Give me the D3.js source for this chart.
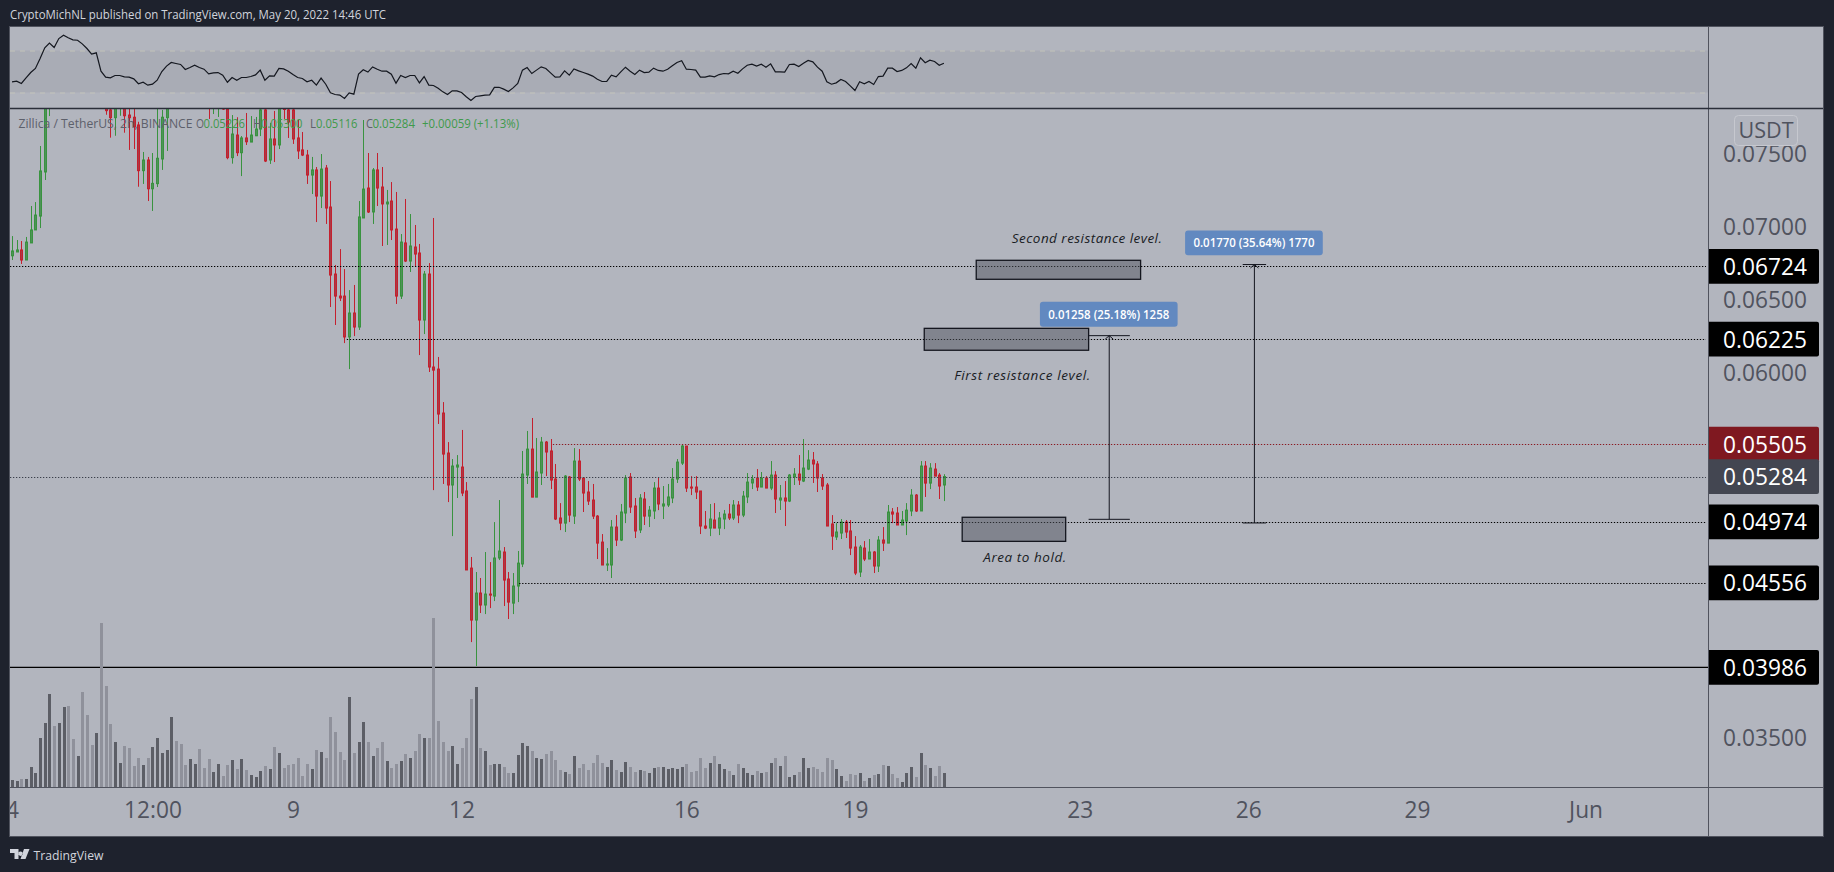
<!DOCTYPE html>
<html><head><meta charset="utf-8">
<script src="https://cdn.jsdelivr.net/npm/d3@7/dist/d3.min.js"></script>
<style>
html,body{margin:0;padding:0;background:#1e222d;overflow:hidden}
svg{display:block}
text{font-family:"Open Sans",sans-serif}
</style></head><body><svg id="c" width="1834" height="872"></svg>
<script>
// Prices are in units of 0.00001 USDT. Bars are 2h apart, from May 4 00:00.
const opens=[6796,6822,6836,6767,6884,6973,7068,7370,7863,7966,
7900,8050,8190,8110,8070,8100,8020,7980,7900,7950,
7850,7795,7742,7840,7880,7760,7745,7692,7379,7452,
7255,7290,7459,7742,7850,7980,7940,7910,7870,7930,
8000,7950,7890,7840,7880,7830,7801,7468,7623,7502,
7603,7575,7618,7664,7795,7452,7596,7555,7830,7795,
7795,7603,7521,7486,7349,7384,7205,7397,7130,6671,
6520,6520,6240,6404,6308,7055,7260,7096,7384,7267,
7151,7171,6979,6520,6884,6760,6856,6815,6356,6671,
6034,6020,5719,5445,5226,5349,5349,5185,4657,4301,
4486,4404,4479,4465,4726,4767,4582,4417,4534,4685,
5294,5472,5143,5308,5520,5459,5267,5000,4965,5281,
5013,5390,5274,5178,5123,5013,4835,4678,4678,4938,
4849,5034,5281,5082,4918,5130,5013,5048,5205,5082,
5089,5137,5267,5376,5493,5212,5212,5185,4945,4931,
4986,4931,4993,5027,5000,5089,5020,5144,5240,5274,
5212,5274,5205,5294,5123,5137,5116,5281,5301,5253,
5335,5397,5370,5274,5226,4959,4870,4897,4972,4911,
4801,4630,4794,4719,4767,4671,4849,4828,5041,5034,
4952,4979,5048,5157,5048,5356,5239,5335,5294,5226];
const highs=[6931,6904,6897,6925,7137,7164,7548,7918,8068,8020,
8080,8240,8220,8150,8130,8120,8060,8000,7990,7970,
7880,7860,7900,7930,7910,7830,7820,7714,7507,7473,
7500,7830,7795,7900,8020,8010,7980,7950,7960,8040,
8020,7970,7920,7950,7960,7880,7860,7760,7745,7616,
7774,7753,7747,7840,7801,7707,7788,7870,7870,7840,
7830,7726,7644,7521,7473,7404,7493,7418,7308,6733,
6842,6705,6561,6596,7171,7726,7500,7397,7500,7404,
7247,7301,7233,6945,7185,7082,7007,6877,6692,6746,
7055,6103,5794,5520,5404,5431,5603,5246,4733,4630,
4589,4767,4698,4972,5123,4801,4630,4623,4774,5459,
5596,5685,5548,5555,5527,5541,5370,5102,5294,5287,
5479,5472,5274,5253,5233,5020,4890,4794,4986,5020,
5096,5294,5308,5137,5164,5178,5082,5246,5281,5219,
5233,5342,5404,5505,5493,5287,5287,5185,5048,5096,
5102,5041,5055,5096,5123,5116,5185,5308,5294,5335,
5315,5287,5390,5321,5226,5253,5301,5342,5431,5541,
5465,5452,5390,5301,5240,5020,4965,4993,4986,4986,
4876,4815,4842,4856,4774,4876,4938,5089,5068,5075,
5048,5102,5198,5164,5390,5390,5376,5376,5308,5300];
const lows=[6767,6822,6740,6767,6884,6973,6986,7315,7753,7880,
7880,8020,8080,8040,8040,7990,7940,7860,7860,7830,
7762,7605,7618,7755,7639,7521,7527,7269,7288,7171,
7103,7267,7384,7514,7830,7900,7880,7840,7840,7900,
7920,7850,7733,7767,7747,7795,7457,7427,7479,7342,
7555,7575,7616,7616,7438,7425,7438,7527,7733,7603,
7562,7459,7479,7288,7219,7027,7123,7014,6445,6322,
6486,6198,6020,6246,6288,7055,7089,7014,7137,6863,
6870,6904,6466,6500,6753,6685,6726,6116,6260,6000,
5191,5644,5233,5109,4876,5137,5150,4644,4150,3986,
4349,4342,4383,4431,4712,4397,4308,4342,4424,4664,
5233,5143,5143,5226,5287,5198,4986,4917,4904,4972,
4959,5253,5041,5089,4993,4719,4678,4637,4589,4808,
4842,4965,5034,4863,4897,4952,4938,4993,5054,4993,
5075,5102,5240,5363,5178,5157,5130,4890,4924,4876,
4931,4883,4924,4986,4986,4965,5006,5102,5198,5185,
5212,5205,5191,5034,5055,4945,5109,5226,5226,5246,
5328,5240,5178,5192,4945,4781,4849,4856,4863,4746,
4609,4596,4705,4719,4623,4630,4774,4828,4965,4952,
4952,4883,5013,5041,5048,5144,5198,5287,5130,5116];
const closes=[6829,6836,6767,6890,6973,7075,7377,7863,7966,7900,
8050,8190,8110,8070,8100,8020,7980,7900,7950,7850,
7790,7742,7840,7880,7755,7742,7680,7379,7452,7255,
7292,7464,7745,7850,7980,7940,7910,7870,7930,8000,
7950,7890,7840,7900,7930,7801,7468,7630,7502,7603,
7577,7623,7664,7795,7445,7596,7555,7830,7798,7712,
7596,7514,7486,7349,7384,7205,7390,7123,6664,6520,
6507,6240,6404,6308,7062,7253,7096,7384,7260,7151,
7164,6973,6520,6890,6760,6863,6808,6356,6671,6034,
6013,5712,5438,5226,5356,5363,5171,4644,4301,4486,
4404,4479,4472,4726,4774,4575,4424,4534,4691,5301,
5472,5143,5315,5520,5452,5260,4993,4965,5287,5020,
5390,5267,5171,5116,5013,4828,4678,4685,4938,4849,
5041,5274,5075,4911,5137,5013,5054,5205,5096,5096,
5144,5267,5383,5493,5205,5205,5178,4945,4931,4993,
4931,5000,5027,5000,5089,5020,5150,5246,5267,5212,
5274,5205,5294,5130,5137,5116,5294,5301,5260,5342,
5397,5370,5274,5219,4945,4876,4904,4972,4904,4794,
4623,4801,4719,4767,4671,4849,4828,5041,5027,4952,
4986,5054,5157,5048,5356,5239,5342,5287,5219,5284];
const volumes=[7,6,8,8,20,14,49,64,93,61,
64,80,81,48,31,95,72,42,54,164,
101,63,45,24,41,39,21,29,22,29,
40,49,34,37,70,46,43,22,28,23,
38,19,28,15,23,11,22,27,18,28,
17,12,10,16,21,18,40,34,19,22,
23,29,11,23,18,37,35,29,70,55,
35,27,90,34,45,65,45,31,39,45,
26,19,23,26,33,29,36,53,49,49,
169,66,45,36,41,23,39,49,88,100,
39,36,22,23,23,20,14,14,32,44,
41,36,29,28,33,36,27,17,15,13,
31,19,23,17,24,32,24,20,27,17,
15,25,20,15,17,16,14,19,20,20,
18,19,18,20,23,15,16,29,19,24,
31,23,18,16,12,23,19,14,12,16,
14,15,24,29,21,31,10,12,15,29,
19,20,18,15,29,27,18,11,6,13,
12,14,6,9,12,13,22,21,13,9,
5,14,20,10,34,22,19,11,21,14];
const rsi=[40.2,40.8,38.6,44.0,49.0,52.9,62.4,72.5,77.0,72.9,
81.4,84.6,82.1,80.2,79.8,76.3,71.9,66.5,67.8,50.3,
44.6,44.0,46.2,46.2,44.9,44.6,43.0,38.3,39.8,37.0,
37.9,41.7,50.0,55.1,58.6,57.6,56.7,51.9,53.8,56.0,
53.8,52.2,47.8,48.7,49.0,46.5,39.8,44.3,41.7,44.3,
44.3,45.2,46.8,51.3,41.7,45.9,45.6,52.9,52.5,50.3,
47.1,44.3,43.3,40.2,41.7,37.0,43.7,37.9,29.7,28.1,
27.5,24.3,29.7,28.4,47.5,51.6,49.4,54.4,52.2,50.3,
50.3,47.5,38.9,46.2,44.3,46.2,46.2,39.2,45.2,37.0,
36.7,34.1,30.6,28.1,31.6,31.6,30.0,25.9,22.4,26.2,
26.8,27.5,27.8,34.8,35.0,33.2,31.0,34.4,38.6,51.3,
53.8,48.1,51.3,54.4,52.9,48.7,44.6,44.9,50.6,46.5,
52.5,50.6,49.0,47.5,45.6,42.7,40.5,40.5,46.5,44.9,
49.7,54.1,50.3,47.1,51.3,49.0,49.4,53.2,51.0,50.3,
52.2,55.4,58.6,60.2,52.2,51.9,51.3,44.6,44.6,45.9,
44.9,47.1,48.1,47.8,50.3,48.4,52.5,56.0,57.0,55.1,
57.0,54.1,57.3,49.7,49.7,49.4,56.7,57.0,54.8,57.9,
60.5,59.2,54.1,50.3,40.2,37.9,39.2,42.4,40.5,36.3,
31.9,40.2,38.3,40.5,37.6,45.2,45.6,53.2,53.2,50.0,
51.0,53.5,57.6,53.2,63.0,58.3,60.8,59.5,56.0,57.9];
const priceTicks=[7500,7000,6500,6000,3500];
const timeTickBars=[0,30,60,96,144,180,228,264,300,336];
const timeTickLabels=["4","12:00","9","12","16","19","23","26","29","Jun"];
const levelPrices=[6724,6225,5505,5284,4974,4556];
const levelStartBars=[-0.43,71.5,115.5,-0.43,175.5,108.3];
const levelColors=["#000","#000","#8a1a22","#3c404b","#000","#000"];
const lastLowPrice=3977;
const badgePrices=[6724,6225,4974,4556,3977,5505,5284];
const badgeLabels=["0.06724","0.06225","0.04974","0.04556","0.03986","0.05505","0.05284"];
const badgeColors=["#000","#000","#000","#000","#000","#7f1820","#434651"];
const zoneBars=[[205.9,241.0],[194.8,229.9],[202.9,225.0]];
const zonePrices=[[6765,6635],[6299,6149],[5005,4840]];
const rulerBars=[234.3,265.3];
const rulerCaps=[[229.9,238.7],[262.8,267.8]];
const rulerFrom=[4991,4966];
const rulerTo=[6249,6736];
const rulerTexts=["0.01258 (25.18%) 1258","0.01770 (35.64%) 1770"];
const rulerBoxBars=[[219.5,248.9],[250.5,279.9]];
const rulerBoxPrices=[[6481,6310],[6969,6800]];
const noteTexts=["Second resistance level.","First resistance level.","Area to hold."];
const noteBars=[213.5,201.2,207.4];
const notePrices=[6918,5978,4733];
const noteWidths=[150,136,83];

const svg=d3.select("#c");
const L=10,R=1708,FR=1823,T=27,SEP=108,BASE=787,BOT=836;
const x=d3.scaleLinear().domain([0,362.16]).range([12,R]);
const y=d3.scaleLinear().domain([3500,7500]).range([737,153]);
const yv=d3.scaleLinear().domain([0,169]).range([BASE,BASE-169]);
const yr=d3.scaleLinear().domain([30,70]).range([92.5,50.5]);
const px=v=>Math.round(x(v))+0.5;
const GR="#39933f",RD="#c4202e",GF="#4f9259",RF="#a93a46";
const narrow=sel=>sel.each(function(){this.setAttribute("textLength",this.getComputedTextLength()*0.945);this.setAttribute("lengthAdjust","spacingAndGlyphs");});

svg.append("rect").attr("x",L).attr("y",T).attr("width",FR-L).attr("height",BOT-T).attr("fill","#b2b5be");
const defs=svg.append("defs");
defs.append("clipPath").attr("id","main").append("rect").attr("x",L).attr("y",SEP).attr("width",R-L).attr("height",BASE-SEP);

// RSI pane
svg.append("rect").attr("x",L).attr("width",R-L).attr("y",yr(70)).attr("height",yr(30)-yr(70)).attr("fill","#a9acb5");
svg.selectAll(".band").data([70,30]).join("line").attr("x1",L).attr("x2",R).attr("y1",d=>yr(d)+.5).attr("y2",d=>yr(d)+.5)
 .attr("stroke","#c3c4ba").attr("stroke-dasharray","5 5");
svg.append("path").datum(rsi).attr("fill","none").attr("stroke","#14171f").attr("stroke-width",1.2)
 .attr("d",d3.line().x((d,i)=>x(i)).y(d=>yr(d)));

// price axis
const yAxis=d3.axisRight(y).tickValues(priceTicks).tickSize(0).tickPadding(0).tickFormat(d=>(d/1e5).toFixed(5));
const ga=svg.append("g").attr("transform",`translate(${R},0)`).call(yAxis);
ga.select(".domain").remove();
ga.selectAll("text").attr("x",57).attr("text-anchor","middle").attr("font-size",24).attr("fill","#50535e").attr("dy",".35em").call(narrow);

const main=svg.append("g").attr("clip-path","url(#main)");
main.append("line").attr("x1",L).attr("x2",R).attr("y1",y(lastLowPrice)).attr("y2",y(lastLowPrice)).attr("stroke","#000").attr("stroke-width",1.2);
// volume
main.selectAll(".v").data(volumes).join("rect").attr("x",(d,i)=>Math.round(x(i))-1).attr("width",3)
 .attr("y",d=>yv(d)).attr("height",d=>BASE-yv(d)).attr("fill",(d,i)=>closes[i]>=opens[i]?"#5c5e66":"#8f919b");
// candles
const idx=d3.range(opens.length);
main.selectAll(".w").data(idx).join("line").attr("x1",px).attr("x2",px).attr("y1",i=>y(highs[i])).attr("y2",i=>y(lows[i]))
 .attr("stroke",i=>closes[i]>=opens[i]?GR:RD).attr("stroke-width",1);
main.selectAll(".b").data(idx).join("rect").attr("x",i=>px(i)-1).attr("width",2)
 .attr("y",i=>y(Math.max(opens[i],closes[i]))).attr("height",i=>Math.max(.6,Math.abs(y(opens[i])-y(closes[i]))))
 .attr("fill",i=>closes[i]>=opens[i]?GF:RF).attr("stroke",i=>closes[i]>=opens[i]?GR:RD).attr("stroke-width",1);
// dotted levels
svg.selectAll(".lv").data(levelPrices).join("line").attr("x1",(d,i)=>x(levelStartBars[i])).attr("x2",R-2)
 .attr("y1",d=>Math.round(y(d))+.5).attr("y2",d=>Math.round(y(d))+.5)
 .attr("stroke",(d,i)=>levelColors[i]).attr("stroke-width",1).attr("stroke-dasharray","1.3 1.7");

// zones
svg.selectAll(".z").data(zoneBars).join("rect").attr("x",d=>x(d[0])).attr("width",d=>x(d[1])-x(d[0]))
 .attr("y",(d,i)=>y(zonePrices[i][0])).attr("height",(d,i)=>y(zonePrices[i][1])-y(zonePrices[i][0]))
 .attr("fill","#50535e").attr("fill-opacity",.5).attr("stroke","#14161f").attr("stroke-width",1.3);

// rulers
rulerBars.forEach((b,i)=>{
 const g=svg.append("g").attr("stroke","#14161f").attr("stroke-width",1).attr("fill","none");
 g.append("line").attr("x1",x(b)).attr("x2",x(b)).attr("y1",y(rulerFrom[i])).attr("y2",y(rulerTo[i]));
 [rulerFrom[i],rulerTo[i]].forEach(p=>g.append("line").attr("x1",x(rulerCaps[i][0])).attr("x2",x(rulerCaps[i][1])).attr("y1",y(p)).attr("y2",y(p)));
 g.append("path").attr("d",d3.line()([[x(b)-4,y(rulerTo[i])+3.5],[x(b),y(rulerTo[i])],[x(b)+4,y(rulerTo[i])+3.5]]));
 svg.append("rect").attr("x",x(rulerBoxBars[i][0])).attr("width",x(rulerBoxBars[i][1])-x(rulerBoxBars[i][0]))
  .attr("y",y(rulerBoxPrices[i][0])).attr("height",y(rulerBoxPrices[i][1])-y(rulerBoxPrices[i][0])).attr("rx",3).attr("fill","#6289c0");
 svg.append("text").attr("x",(x(rulerBoxBars[i][0])+x(rulerBoxBars[i][1]))/2)
  .attr("y",(y(rulerBoxPrices[i][0])+y(rulerBoxPrices[i][1]))/2).attr("dy",".35em").attr("text-anchor","middle")
  .attr("font-size",12.5).attr("font-weight",600).attr("fill","#fff").attr("textLength",121).attr("lengthAdjust","spacingAndGlyphs").text(rulerTexts[i]);
});
// notes
svg.selectAll(".n").data(noteTexts).join("text").attr("x",(d,i)=>x(noteBars[i])).attr("y",(d,i)=>y(notePrices[i])).attr("dy",".35em")
 .attr("font-size",13.5).attr("font-style","italic").attr("fill","#191c24").attr("textLength",(d,i)=>noteWidths[i]).attr("lengthAdjust","spacing").text(d=>d);

// legend
const leg=svg.append("g").attr("font-size",12.5);
const legend=[["Zillica / TetherUS, 2h, BINANCE",18.5,"#5d606b",174],["O",196,"#5d606b",8],["0.05226",203.5,"#3f9a4b",41.5],["H",253,"#5d606b",8],["0.05300",261,"#3f9a4b",41.5],["L",310,"#5d606b",6],["0.05116",316,"#3f9a4b",41.5],["C",366,"#5d606b",7],["0.05284",372.5,"#3f9a4b",42.5],["+0.00059 (+1.13%)",422,"#3f9a4b",97]];
legend.forEach(d=>leg.append("text").attr("x",d[1]).attr("y",124).attr("dy",".35em").attr("fill",d[2]).attr("textLength",d[3]).attr("lengthAdjust","spacingAndGlyphs").text(d[0]));

// badges
svg.selectAll(".bd").data(badgePrices).join("path")
 .attr("d",d=>{const c=y(d),t=c-17.4,b=c+17.4,r=1819;return `M${R} ${t}H${r-2}Q${r} ${t} ${r} ${t+2}V${b-2}Q${r} ${b} ${r-2} ${b}H${R}Z`;})
 .attr("fill",(d,i)=>badgeColors[i]);
svg.selectAll(".bt").data(badgePrices).join("text").attr("x",1765).attr("y",d=>y(d)).attr("dy",".35em").attr("text-anchor","middle")
 .attr("font-size",24).attr("font-weight",500).attr("fill","#fff").text((d,i)=>badgeLabels[i]).call(narrow);

// USDT button
svg.append("rect").attr("x",1734.5).attr("y",115.5).attr("width",63).attr("height",30).attr("rx",4).attr("fill","#b2b5be").attr("stroke","#c6c8cf");
svg.append("text").attr("x",1766).attr("y",130.5).attr("dy",".35em").attr("text-anchor","middle").attr("font-size",22).attr("fill","#50535e").attr("textLength",55).attr("lengthAdjust","spacingAndGlyphs").text("USDT");

// time axis
const xAxis=d3.axisBottom(x).tickValues(timeTickBars).tickSize(0).tickPadding(0).tickFormat((d,i)=>timeTickLabels[i]);
const gx=svg.append("g").attr("transform",`translate(0,${BASE})`).call(xAxis);
gx.select(".domain").remove();
gx.selectAll("text").attr("y",23).attr("dy",".35em").attr("font-size",24).attr("fill","#50535e").call(narrow);
svg.append("rect").attr("x",0).attr("y",BASE+1).attr("width",L).attr("height",BOT-BASE).attr("fill","#1e222d");

// frame and separators
const fr=svg.append("g").attr("stroke","#50535e").attr("stroke-width",1).attr("fill","none");
fr.append("rect").attr("x",L-.5).attr("y",T-.5).attr("width",FR-L+1).attr("height",BOT-T+1);
fr.append("line").attr("x1",R+.5).attr("x2",R+.5).attr("y1",T).attr("y2",BOT);
fr.append("line").attr("x1",L).attr("x2",FR).attr("y1",BASE+.5).attr("y2",BASE+.5);
svg.append("line").attr("x1",L).attr("x2",FR).attr("y1",SEP+.5).attr("y2",SEP+.5).attr("stroke","#2a2e39").attr("stroke-width",1.4);

// header / footer
svg.append("text").attr("x",10).attr("y",15).attr("dy",".35em").attr("font-size",12.5).attr("fill","#d1d4dc").attr("textLength",376).attr("lengthAdjust","spacingAndGlyphs").text("CryptoMichNL published on TradingView.com, May 20, 2022 14:46 UTC");
svg.append("text").attr("x",33.5).attr("y",855).attr("dy",".35em").attr("font-size",13.5).attr("fill","#d1d4dc").attr("textLength",70).attr("lengthAdjust","spacingAndGlyphs").text("TradingView");
svg.append("path").attr("fill","#d1d4dc").attr("d","M10 849h8.5v10h-4v-6H10zM20.5 851.5a2.2 2.2 0 1 0 .01 0zM24 849h5.5l-4 10h-5z");
</script></body></html>
